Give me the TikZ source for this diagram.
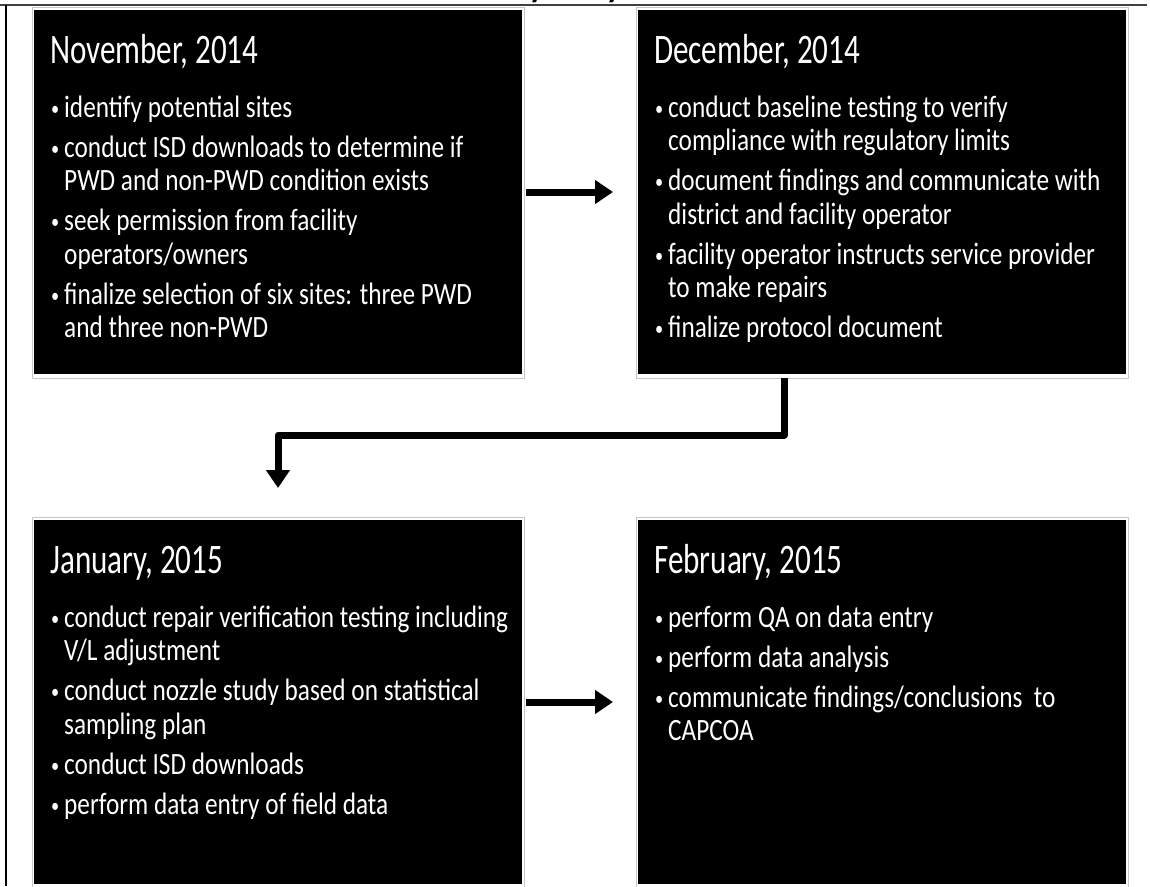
\documentclass[tikz,border=0pt]{standalone}
\usepackage{fontspec}
\setmainfont{Carlito}[FakeStretch=0.815]
\newfontfamily\ttlfont{Carlito}[FakeStretch=0.74]
\usetikzlibrary{arrows.meta,calc}
\newcommand\bl{\makebox[13pt][l]{\raisebox{2pt}{\fontsize{20}{20}\selectfont\textbullet}}}
\newcommand\ind{\hspace*{13pt}}
\newcommand\gap{\\[6.5pt]}
\begin{document}
\begin{tikzpicture}[x=1pt,y=-1pt,
  slide/.style={fill=black, draw=none, minimum width=488pt, minimum height=364pt, inner sep=0pt, outer sep=0pt, anchor=north west},
  frame/.style={draw=black!22, line width=1pt},
  ttl/.style={text=white, font=\ttlfont\fontsize{42}{42}\selectfont, anchor=base west, inner sep=0pt},
  body/.style={text=white, font=\fontsize{31}{33.5}\selectfont, anchor=base west, inner sep=0pt},
  conn/.style={line width=7pt, line join=round, -{Triangle[length=18pt,width=23pt]}},
]
\useasboundingbox (0,0) rectangle (1150,886);
\fill[white] (0,0) rectangle (1150,886);

% cut-off title descenders
\begin{scope}
\clip (0,0) rectangle (1150,4);
\node[font=\fontsize{40}{40}\selectfont\bfseries, anchor=base, inner sep=0pt] (ty1) at (537,-4) {y};
\node[font=\fontsize{40}{40}\selectfont\bfseries, anchor=base, inner sep=0pt] (ty2) at (614,-4) {y};
\end{scope}

% outer frame lines
\draw[black!75, line width=2pt] (0,4.5) -- (1147,4.5);
\draw[black, line width=2pt] (5.5,4.5) -- (5.5,886);

% slides
\node[slide] (nov) at (34,10) {};
\node[slide] (dec) at (638,10) {};
\node[slide] (jan) at (34,520) {};
\node[slide] (feb) at (638,520) {};
\foreach \n in {nov,dec,jan,feb}
  \draw[frame] ($(\n.north west)+(-2,-3)$) rectangle ($(\n.south east)+(2,4)$);

% November
\node[ttl] (novT) at (50,63) {November, 2014};
\node[body] (novB) at (51,117) {\parbox[t]{480pt}{\raggedright
\bl identify potential sites\gap
\bl conduct ISD downloads to determine if\\
\ind PWD and non-PWD condition exists\gap
\bl seek permission from facility\\
\ind operators/owners\gap
\bl finalize selection of six sites: three PWD\\
\ind and three non-PWD}};

% December
\node[ttl] (decT) at (654,63) {December, 2014};
\node[body] (decB) at (655,117) {\parbox[t]{480pt}{\raggedright
\bl conduct baseline testing to verify\\
\ind compliance with regulatory limits\gap
\bl document findings and communicate with\\
\ind district and facility operator\gap
\bl facility operator instructs service provider\\
\ind to make repairs\gap
\bl finalize protocol document}};

% January
\node[ttl] (janT) at (50,573) {January, 2015};
\node[body] (janB) at (51,627) {\parbox[t]{480pt}{\raggedright
\bl conduct repair verification testing including\\
\ind V/L adjustment\gap
\bl conduct nozzle study based on statistical\\
\ind sampling plan\gap
\bl conduct ISD downloads\gap
\bl perform data entry of field data}};

% February
\node[ttl] (febT) at (654,573) {February, 2015};
\node[body] (febB) at (655,627) {\parbox[t]{480pt}{\raggedright
\bl perform QA on data entry\gap
\bl perform data analysis\gap
\bl communicate findings/conclusions\ \ to\\
\ind CAPCOA}};

% connectors
\draw[conn] ($(nov.east)+(4,0)$) -- ($(dec.west)+(-25,0)$);
\draw[conn] ($(jan.east)+(4,0)$) -- ($(feb.west)+(-25,0)$);
\draw[conn] ($(dec.south)+(-98,4)$) |- ($(jan.north)+(0,-85)$) -- ($(jan.north)+(0,-32)$);
\end{tikzpicture}
\end{document}
